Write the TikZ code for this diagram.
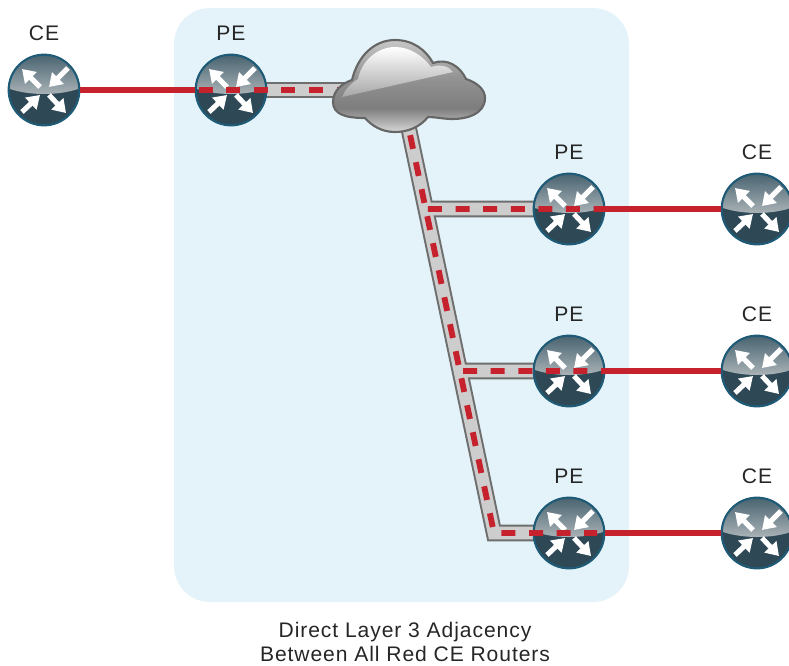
\documentclass[tikz,border=0pt]{standalone}
\usepackage{fontspec}
\setmainfont{Liberation Sans}[LetterSpace=4.4]
\usetikzlibrary{arrows.meta, positioning, calc, backgrounds}

\definecolor{zone}{HTML}{E3F3F9}
\definecolor{rtrdark}{HTML}{2E4856}
\definecolor{rtrrim}{HTML}{1F5B76}
\definecolor{rtrtop}{HTML}{44606D}
\definecolor{rtrlow}{HTML}{AEB6BA}
\definecolor{pipeedge}{HTML}{6E6E6E}
\definecolor{pipefill}{HTML}{CDCDCD}
\definecolor{linkred}{HTML}{C5222D}
\definecolor{cloudedge}{HTML}{666666}

\pgfdeclareverticalshading{cloudshade}{100bp}{rgb(0bp)=(.84,.84,.84); rgb(25bp)=(.84,.84,.84); rgb(38bp)=(.49,.49,.49); rgb(55bp)=(.58,.58,.58); rgb(75bp)=(.78,.78,.78); rgb(100bp)=(.78,.78,.78)}

\tikzset{
  router/.style={circle, draw=rtrrim, line width=1.6pt, fill=rtrdark, minimum size=53pt, inner sep=0pt,
    path picture={
      \begin{scope}[shift={(path picture bounding box.center)}]
      \shade[top color=rtrtop, bottom color=rtrlow] (-37,-2) .. controls (-15,6) and (15,6) .. (37,-2) -- (37,-37) -- (-37,-37) -- cycle;
      \draw[rarrow] (-4,-3) -- (-22,-21);
      \draw[rarrow] (24,-22) -- (5,-3);
      \draw[rarrow] (-22,22) -- (-4,5);
      \draw[rarrow] (5,5) -- (22,23);
      \end{scope}
    }},
  rarrow/.style={white, line width=3.8pt, -{Triangle[length=9.5pt, width=12pt]}},
  pipeout/.style={draw=pipeedge, line width=12.4pt},
  pipein/.style={draw=pipefill, line width=9.4pt},
  reddash/.style={draw=linkred, line width=4.4pt, dash pattern=on 10.5pt off 10.2pt},
  redline/.style={draw=linkred, line width=4.4pt},
  lbl/.style={font=\fontsize{15.8pt}{18.4pt}\selectfont, text=black!85, inner sep=0pt}
}

\begin{document}
\begin{tikzpicture}[x=.75pt, y=-.75pt]
\useasboundingbox (0,0) rectangle (789,665);

\node[router] (ce1) at (44,90) {};
\node[router] (pe1) at (231,90) {};
\node[router] (pe2) at (569,209) {};
\node[router] (pe3) at (569,371) {};
\node[router] (pe4) at (569,533) {};
\node[router] (ce2) at (757,209) {};
\node[router] (ce3) at (757,371) {};
\node[router] (ce4) at (757,533) {};

\coordinate (cloud) at (408,125);
\coordinate (cloudw) at (345,90);
\coordinate (corner) at (494,533);
\coordinate (j1) at ($(cloud)!.2059!(corner)$);
\coordinate (j2) at ($(cloud)!.6029!(corner)$);

% shaded zone and the grey pipes go under the routers
\begin{scope}[on background layer]
\fill[zone, rounded corners=27pt] (174,8) rectangle (629,602);
\draw[pipeout] (pe1.center) -- (cloudw);
\draw[pipeout] (cloud) -- (corner) -- (pe4.center);
\draw[pipeout] (j1) -- (pe2.center);
\draw[pipeout] (j2) -- (pe3.center);
\draw[pipein] (pe1.center) -- (cloudw);
\draw[pipein] (cloud) -- (corner) -- (pe4.center);
\draw[pipein] (j1) -- (pe2.center);
\draw[pipein] (j2) -- (pe3.center);
\end{scope}

\draw[redline] (ce1) -- (pe1);
\draw[redline] (pe2) -- (ce2);
\draw[redline] (pe3) -- (ce3);
\draw[redline] (pe4) -- (ce4);

\draw[reddash, dash phase=17.7pt] (pe1.west) -- (cloudw);
\draw[reddash, dash phase=12.9pt] (cloud) -- (corner) -- ([xshift=21pt]pe4.center);
\draw[reddash, dash phase=19pt] (j1) -- (pe2.east);
\draw[reddash, dash phase=18.3pt] (j2) -- (pe3.east);

% cloud sits on top of the pipes
\draw[cloudedge, line width=1.6pt, shading=cloudshade] (333,102) .. controls (333,90) and (343,83) .. (352,80)
  .. controls (358,55) and (375,40) .. (395,40) .. controls (413,40) and (426,50) .. (433,63)
  .. controls (447,58) and (460,66) .. (466,79) .. controls (478,83) and (485,90) .. (485,98)
  .. controls (485,115) and (465,119) .. (453,119) .. controls (443,119) and (436,117) .. (428,117)
  .. controls (420,127) and (408,132) .. (395,132) .. controls (382,132) and (372,126) .. (365,118)
  .. controls (345,118) and (333,114) .. (333,102) -- cycle;
\shade[top color=white, bottom color=black!35] (342,97) .. controls (345,90) and (350,84) .. (358,79)
  .. controls (362,60) and (378,47) .. (395,47) .. controls (410,47) and (423,56) .. (431,67)
  .. controls (440,64) and (449,66) .. (453,72) -- cycle;

\node[lbl, above=9.5pt of ce1] (ce1lbl) {CE};
\node[lbl, above=9.5pt of pe1] (pe1lbl) {PE};
\node[lbl, above=9.5pt of pe2] (pe2lbl) {PE};
\node[lbl, above=9.5pt of pe3] (pe3lbl) {PE};
\node[lbl, above=9.5pt of pe4] (pe4lbl) {PE};
\node[lbl, above=9.5pt of ce2] (ce2lbl) {CE};
\node[lbl, above=9.5pt of ce3] (ce3lbl) {CE};
\node[lbl, above=9.5pt of ce4] (ce4lbl) {CE};
\node[lbl, align=center] (adj) at (405,642) {Direct Layer 3 Adjacency\\Between All Red CE Routers};
\end{tikzpicture}
\end{document}
